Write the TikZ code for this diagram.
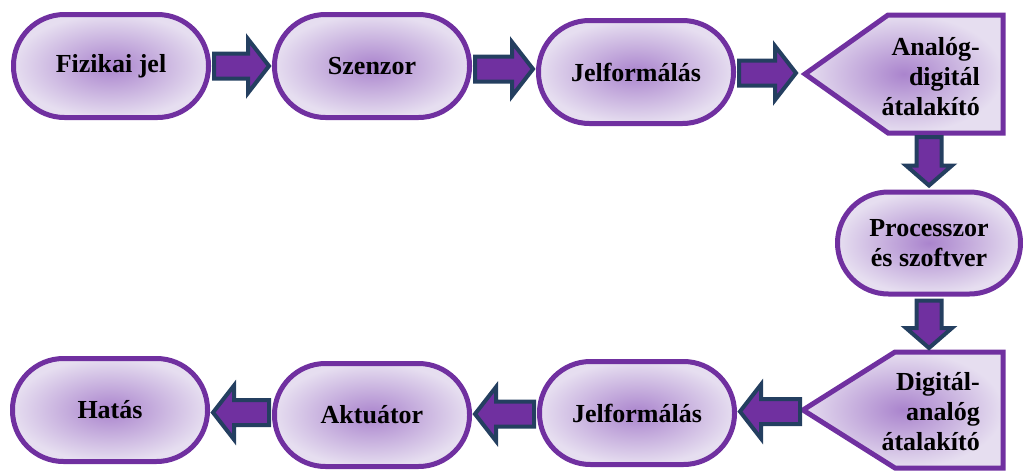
\documentclass[tikz,border=0pt]{standalone}
\usepackage{fontspec}
\setmainfont{Liberation Serif}
\usetikzlibrary{calc}
\definecolor{pborder}{HTML}{7030A0}
\definecolor{afill}{HTML}{7030A0}
\definecolor{aline}{HTML}{243F60}
\definecolor{ginner}{RGB}{170,132,205}
\definecolor{gouter}{RGB}{230,222,240}
% right-pointing block arrow: #1 gap at tip
\newcommand\rarr[3][3pt]{\path[blk] let \p1=(#2.east), \p2=(#3.west), \n1={(\y1+\y2)/2} in
 (\x1+3pt,\n1+12.5pt) -- (\x2-#1-21pt,\n1+12.5pt) -- (\x2-#1-21pt,\n1+27pt) -- (\x2-#1,\n1)
 -- (\x2-#1-21pt,\n1-27pt) -- (\x2-#1-21pt,\n1-12.5pt) -- (\x1+3pt,\n1-12.5pt) -- cycle;}
% left-pointing block arrow: #1 gap at tail
\newcommand\larr[3][3pt]{\path[blk] let \p1=(#2.west), \p2=(#3.east), \n1={(\y1+\y2)/2} in
 (\x1-#1,\n1+12.5pt) -- (\x2+24pt,\n1+12.5pt) -- (\x2+24pt,\n1+27pt) -- (\x2+3pt,\n1)
 -- (\x2+24pt,\n1-27pt) -- (\x2+24pt,\n1-12.5pt) -- (\x1-#1,\n1-12.5pt) -- cycle;}
% down-pointing block arrow, x taken from node #3
\newcommand\darr[3]{\path[blk] let \p1=(#1.south), \p2=(#2.north), \p3=(#3.center) in
 (\x3-12.5pt,\y1-4pt) -- (\x3-12.5pt,\y2+24pt) -- (\x3-23pt,\y2+24pt) -- (\x3,\y2+4pt)
 -- (\x3+23pt,\y2+24pt) -- (\x3+12.5pt,\y2+24pt) -- (\x3+12.5pt,\y1-4pt) -- cycle;}
\begin{document}
\begin{tikzpicture}[x=1pt,y=-1pt,
  txt/.style={font=\fontsize{26}{30}\selectfont\bfseries},
  stad/.style={txt, rectangle, rounded corners=51pt, draw=pborder, line width=5pt,
    inner color=ginner, outer color=gouter, minimum width=195pt, minimum height=103pt,
    align=center, inner sep=0pt},
  pentbox/.style={rectangle, inner sep=0pt, outer sep=2.5pt},
  pent/.style={draw=pborder, line width=5pt, inner color=ginner, outer color=gouter, line join=miter},
  plabel/.style={txt, align=right, inner sep=0pt, anchor=east},
  blk/.style={fill=afill, draw=aline, line width=4pt, line join=miter}]
\useasboundingbox (0,0) rectangle (1023,472);

% row 1
\node[stad] (fiz) at (111,66) {Fizikai jel};
\node[stad] (sze) at (372,66) {Szenzor};
\node[stad] (jel1) at (636,72) {Jelformálás};
\node[pentbox, minimum width=193pt, minimum height=113pt] (ad) at (904,74) {};
\path[pent] (ad.west) -- ($(ad.north west)+(83,0)$) -- (ad.north east)
  -- (ad.south east) -- ($(ad.south west)+(83,0)$) -- cycle;
\node[plabel] (adt) at ($(ad.east)+(-23,3)$) {Analóg-\\digitál\\átalakító};

% right column
\node[stad, minimum width=183pt, minimum height=102pt] (proc) at (929,243) {Processzor\\és szoftver};

% row 3
\node[pentbox, minimum width=195pt, minimum height=111pt] (da) at (903,410) {};
\path[pent] (da.west) -- ($(da.north west)+(92,0)$) -- (da.north east)
  -- (da.south east) -- ($(da.south west)+(92,0)$) -- cycle;
\node[plabel] (dat) at ($(da.east)+(-23,2)$) {Digitál-\\analóg\\átalakító};
\node[stad] (jel2) at (637,413) {Jelformálás};
\node[stad] (akt) at (372,415) {Aktuátor};
\node[stad] (hat) at (110,410) {Hatás};

% connectors
\rarr{fiz}{sze}
\rarr{sze}{jel1}
\rarr[9pt]{jel1}{ad}
\darr{ad}{proc}{proc}
\darr{proc}{da}{proc}
\larr[3pt]{da}{jel2}
\larr{jel2}{akt}
\larr{akt}{hat}
\end{tikzpicture}
\end{document}
